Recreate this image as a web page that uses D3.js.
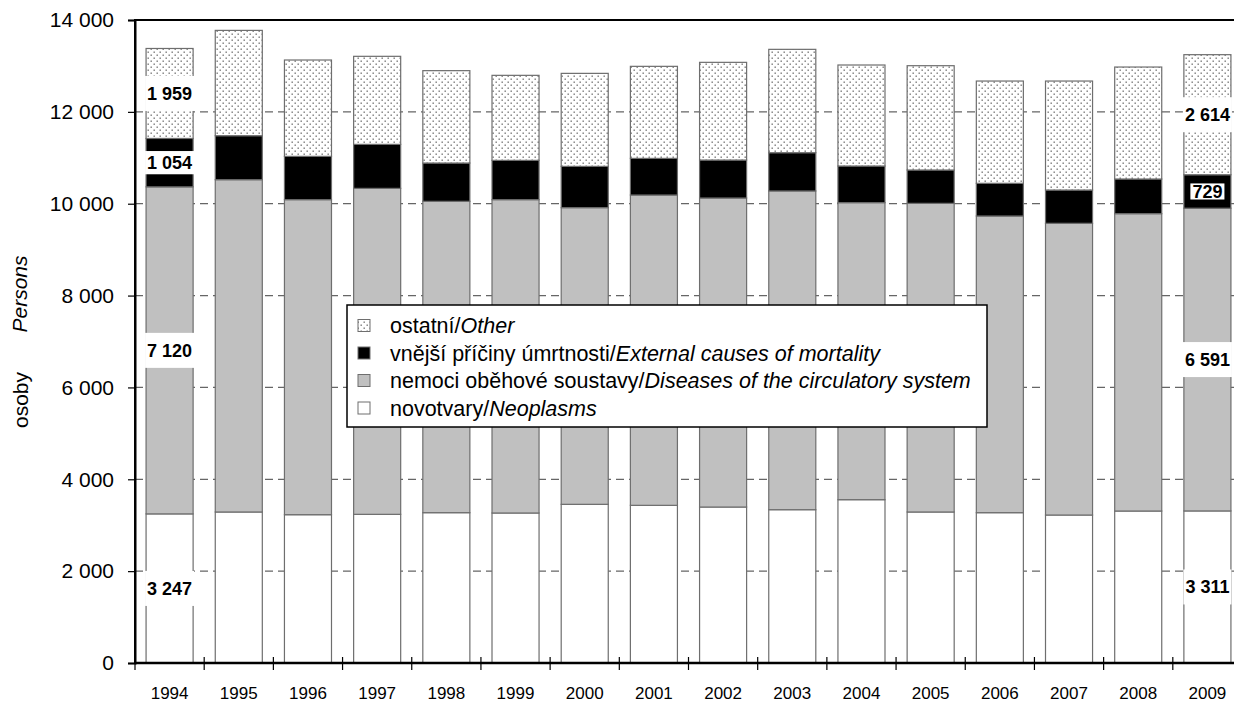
<!DOCTYPE html>
<html><head><meta charset="utf-8">
<script src="https://cdn.jsdelivr.net/npm/d3@7"></script>
<style>
body{margin:0;background:#fff;}
svg{display:block;font-family:Arial,"Liberation Sans",sans-serif;}
</style></head>
<body><svg id="c" width="1234" height="702"></svg>
<script>
const years = ["1994","1995","1996","1997","1998","1999","2000","2001","2002","2003","2004","2005","2006","2007","2008","2009"];
const neoplasms   = [3247,3288,3229,3237,3273,3266,3455,3433,3396,3338,3556,3288,3273,3222,3309,3311];
const circulatory = [7120,7235,6859,7097,6779,6822,6459,6756,6728,6939,6467,6720,6459,6351,6474,6591];
const external    = [1054, 958, 943, 958, 834, 856, 899, 798, 827, 834, 798, 726, 712, 725, 755, 729];
const other       = [1959,2293,2098,1917,2011,1851,2025,2004,2127,2250,2199,2271,2227,2373,2438,2614];
const yTicks = [0,2000,4000,6000,8000,10000,12000,14000];
const labelledYears = ["1994","2009"];
const seriesKeys = ["neo","circ","ext","oth"];
const legendCz = ["ostatní/","vnější příčiny úmrtnosti/","nemoci oběhové soustavy/","novotvary/"];
const legendEn = ["Other","External causes of mortality","Diseases of the circulatory system","Neoplasms"];
const legendKeys = ["oth","ext","circ","neo"];

const svg = d3.select("#c");
const L = 135, R = 1242, T = 20, B = 663;
const fmt = d3.formatLocale({decimal:",", thousands:" ", grouping:[3], currency:["",""]}).format(",d");

const defs = svg.append("defs");
const pat = defs.append("pattern").attr("id","dots").attr("patternUnits","userSpaceOnUse")
  .attr("width",6).attr("height",6);
pat.append("rect").attr("width",6).attr("height",6).attr("fill","#fff");
pat.append("rect").attr("x",0.5).attr("y",0.5).attr("width",1.4).attr("height",1.4).attr("fill","#777");
pat.append("rect").attr("x",3.5).attr("y",3.5).attr("width",1.4).attr("height",1.4).attr("fill","#777");
const fills = {neo:"#ffffff", circ:"#c0c0c0", ext:"#000000", oth:"url(#dots)"};

const data = years.map((y,i)=>({year:y, neo:neoplasms[i], circ:circulatory[i], ext:external[i], oth:other[i]}));
const stacked = d3.stack().keys(seriesKeys)(data);

const x = d3.scaleBand().domain(years).range([L,R]).paddingInner(0.32).paddingOuter(0.16);
const y = d3.scaleLinear().domain([0,14000]).range([B,T]);

// gridlines
svg.append("g").selectAll("line").data(yTicks.filter(v=>v>0 && v<14000)).join("line")
  .attr("x1",L).attr("x2",R).attr("y1",d=>y(d)).attr("y2",d=>y(d))
  .attr("stroke","#666").attr("stroke-width",1.2).attr("stroke-dasharray","8,5");

// bars
const gBars = svg.append("g");
stacked.forEach(s=>{
  gBars.append("g").selectAll("rect").data(s).join("rect")
    .attr("x",d=>x(d.data.year)).attr("width",x.bandwidth())
    .attr("y",d=>y(d[1])).attr("height",d=>y(d[0])-y(d[1]))
    .attr("fill",fills[s.key]).attr("stroke","#6e6e6e").attr("stroke-width",1.2);
});

// frame
svg.append("rect").attr("x",L).attr("y",T).attr("width",R-L).attr("height",B-T)
  .attr("fill","none").attr("stroke","#000").attr("stroke-width",2);

// y axis
const yAxis = svg.append("g").attr("transform",`translate(${L},0)`)
  .call(d3.axisLeft(y).tickValues(yTicks).tickFormat(d=>fmt(d)).tickSize(7).tickPadding(14));
yAxis.select(".domain").attr("stroke","#000").attr("stroke-width",2);
yAxis.selectAll(".tick line").attr("stroke","#000").attr("stroke-width",1.2);
yAxis.selectAll("text").attr("font-size",21).attr("font-family","Arial,'Liberation Sans',sans-serif").attr("fill","#000");

// x axis
const step = x.step();
const bounds = d3.range(years.length+1).map(i=>L+i*step);
svg.append("g").selectAll("line").data(bounds).join("line")
  .attr("x1",d=>d).attr("x2",d=>d).attr("y1",B-6).attr("y2",B+7)
  .attr("stroke","#000").attr("stroke-width",1.2);
svg.append("line").attr("x1",L).attr("x2",R).attr("y1",B).attr("y2",B).attr("stroke","#000").attr("stroke-width",2.5);
svg.append("g").selectAll("text").data(years).join("text")
  .attr("x",d=>x(d)+x.bandwidth()/2).attr("y",699).attr("text-anchor","middle")
  .attr("font-size",17).text(d=>d);

// y title
svg.append("text").attr("transform","translate(28,400) rotate(-90)").attr("text-anchor","middle")
  .attr("font-size",21).text("osoby");
svg.append("text").attr("transform","translate(27,294) rotate(-90)").attr("text-anchor","middle")
  .attr("font-size",21).attr("font-style","italic").text("Persons");

// data labels
const gLab = svg.append("g");
stacked.forEach(s=>{
  s.filter(d=>labelledYears.includes(d.data.year)).forEach(d=>{
    const v = d.data[s.key];
    const cx = x(d.data.year)+x.bandwidth()/2;
    const cy = (y(d[0])+y(d[1]))/2;
    const segH = y(d[0])-y(d[1]);
    const t = gLab.append("text").attr("x",cx).attr("y",cy).attr("dy","0.36em")
      .attr("text-anchor","middle").attr("font-size",18).attr("font-weight","bold").text(fmt(v));
    const bb = t.node().getBBox();
    const h = Math.min(35, segH*0.48);
    gLab.insert("rect","text:last-child").attr("x",bb.x-2).attr("width",bb.width+4)
      .attr("y",cy-h/2).attr("height",h).attr("fill","#fff");
    t.raise();
  });
});

// legend
const lg = svg.append("g");
lg.append("rect").attr("x",347).attr("y",305).attr("width",640).attr("height",122)
  .attr("fill","#fff").attr("stroke","#000").attr("stroke-width",1.5);
legendKeys.forEach((k,i)=>{
  const cy = 325.5 + i*27.5;
  lg.append("rect").attr("x",358).attr("y",cy-6).attr("width",12).attr("height",12)
    .attr("fill",fills[k]).attr("stroke","#6e6e6e").attr("stroke-width",1);
  const t = lg.append("text").attr("x",390).attr("y",cy).attr("dy","0.36em").attr("font-size",21.5);
  t.append("tspan").text(legendCz[i]);
  t.append("tspan").attr("font-style","italic").text(legendEn[i]);
});
</script></body></html>
